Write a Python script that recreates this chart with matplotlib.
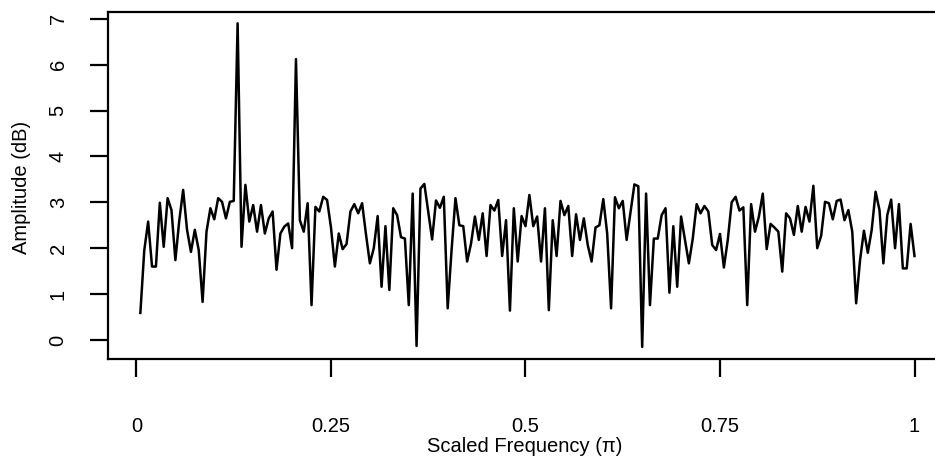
import numpy as np
import matplotlib
matplotlib.use("Agg")
import matplotlib.pyplot as plt

plt.rcParams['font.family'] = ['Liberation Sans', 'DejaVu Sans']

n_points = 200
amplitude_db = [
    0.59, 1.95, 2.58, 1.60, 1.60, 2.99, 2.03, 3.09, 2.83, 1.74,
    2.60, 3.27, 2.40, 1.92, 2.40, 1.96, 0.83, 2.36, 2.87, 2.63,
    3.09, 3.01, 2.65, 3.01, 3.03, 6.90, 2.03, 3.38, 2.58, 2.94,
    2.36, 2.94, 2.32, 2.65, 2.80, 1.53, 2.32, 2.47, 2.54, 2.00,
    6.12, 2.61, 2.36, 2.98, 0.76, 2.90, 2.80, 3.12, 3.05, 2.45,
    1.60, 2.32, 1.98, 2.09, 2.80, 2.96, 2.76, 2.98, 2.30, 1.67,
    2.00, 2.70, 1.16, 2.48, 1.09, 2.87, 2.72, 2.24, 2.21, 0.76,
    3.19, -0.13, 3.30, 3.40, 2.80, 2.19, 3.04, 2.88, 3.12, 0.69,
    1.96, 3.09, 2.50, 2.48, 1.71, 2.10, 2.69, 2.18, 2.76, 1.83,
    2.94, 2.82, 3.05, 1.83, 2.61, 0.64, 2.87, 1.71, 2.70, 2.48,
    3.16, 2.48, 2.69, 1.71, 2.87, 0.65, 2.61, 1.83, 3.03, 2.72,
    2.92, 1.83, 2.74, 2.18, 2.65, 2.07, 1.71, 2.45, 2.50, 3.07,
    2.32, 0.69, 3.11, 2.87, 3.03, 2.18, 2.78, 3.39, 3.35, -0.15,
    3.19, 0.76, 2.21, 2.21, 2.72, 2.87, 1.03, 2.48, 1.16, 2.69,
    2.18, 1.67, 2.21, 2.96, 2.76, 2.92, 2.80, 2.07, 1.96, 2.31,
    1.58, 2.18, 3.00, 3.12, 2.82, 2.89, 0.76, 2.96, 2.36, 2.69,
    3.19, 1.98, 2.53, 2.45, 2.36, 1.49, 2.76, 2.65, 2.29, 2.92,
    2.36, 2.90, 2.58, 3.36, 2.00, 2.27, 3.01, 2.98, 2.63, 3.03,
    3.06, 2.61, 2.83, 2.36, 0.80, 1.74, 2.38, 1.90, 2.40, 3.23,
    2.83, 1.67, 2.72, 3.06, 2.00, 2.96, 1.56, 1.56, 2.53, 1.83,
]
scaled_freq = np.arange(1, n_points + 1) / n_points

x_ticks = [0, 0.25, 0.5, 0.75, 1]
x_tick_labels = ["0", "0.25", "0.5", "0.75", "1"]
y_ticks = [0, 1, 2, 3, 4, 5, 6, 7]

W, H = 935, 466
fig = plt.figure(figsize=(W / 100, H / 100), dpi=100)
left, right, top, bottom = 108, 945, 12, 359
ax = fig.add_axes([left / W, (H - bottom) / H, (right - left) / W, (bottom - top) / H])

ax.plot(scaled_freq, amplitude_db, color="black", linewidth=1.8)

ax.set_xlim(-0.0366, 1.0392)
ax.set_ylim(-0.414, 7.146)

for s in ax.spines.values():
    s.set_linewidth(1.6)
    s.set_color("black")

fs = 14.5
ax.set_xticks(x_ticks)
ax.set_xticklabels(x_tick_labels)
ax.set_yticks(y_ticks)
ax.set_yticklabels([str(v) for v in y_ticks], rotation=90, va="center")
ax.tick_params(axis="both", direction="out", length=13, width=1.6, labelsize=fs,
               colors="black")
ax.tick_params(axis="x", pad=29)
ax.tick_params(axis="y", pad=16)

fig.text(22 / W, 1 - 187 / H, "Amplitude (dB)", rotation=90, ha="center", va="center",
         fontsize=fs)
fig.text(525 / W, 1 - 446 / H, "Scaled Frequency (π)", ha="center", va="center",
         fontsize=fs)

fig.savefig("out.png", dpi=100)
